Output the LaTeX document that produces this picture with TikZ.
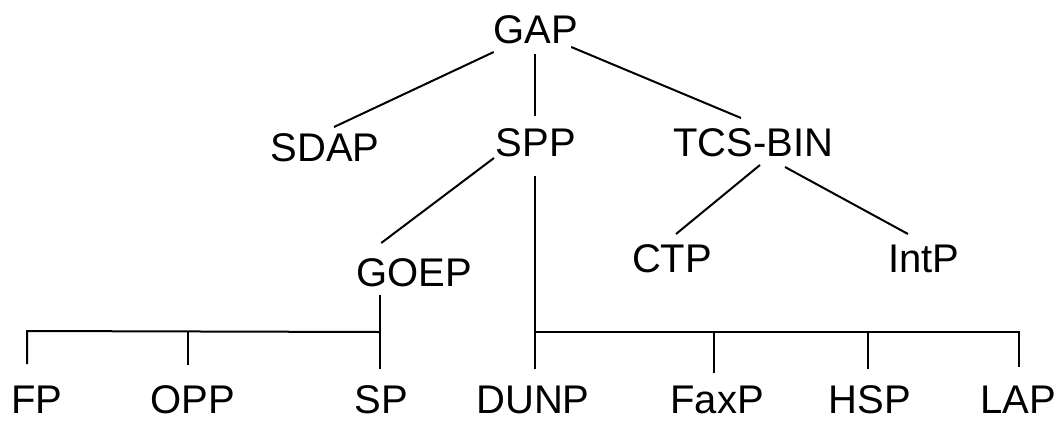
\documentclass[tikz,border=0pt]{standalone}
\usepackage{fontspec}
\setmainfont{Liberation Sans}
\usetikzlibrary{calc}
\begin{document}
\begin{tikzpicture}[x=1pt,y=-1pt,
  lbl/.style={inner sep=0pt,outer sep=0pt,text height=28pt,text depth=0pt,anchor=base,font=\fontsize{40}{48}\selectfont},
  edge/.style={line width=2pt}]
\useasboundingbox (0,0) rectangle (1064,421);
% nodes
\node[lbl] (GAP) at (536,43) {GAP};
\node[lbl] (SDAP) at (325,161) {SDAP};
\node[lbl] (SPP) at (536,156) {SPP};
\node[lbl] (TCS) at (753,156) {TCS-BIN};
\node[lbl] (GOEP) at (414,286) {GOEP};
\node[lbl] (CTP) at (672,272) {CTP};
\node[lbl] (IntP) at (924,272) {IntP};
\node[lbl] (FP) at (37,413) {FP};
\node[lbl] (OPP) at (193,413) {OPP};
\node[lbl] (SP) at (381,413) {SP};
\node[lbl] (DUNP) at (533,413) {DUNP};
\node[lbl] (FaxP) at (717,413) {FaxP};
\node[lbl] (HSP) at (870,413) {HSP};
\node[lbl] (LAP) at (1018,413) {LAP};
% connectors
\draw[edge] ($(GAP.south west)+(0,9)$) -- ($(SDAP.north)+(9,-6)$);
\draw[edge] ($(GAP.south)+(-1,11)$) -- ($(SPP.north)+(-1,-12)$);
\draw[edge] ($(GAP.south east)+(-7,4)$) -- ($(TCS.north)+(-12,-10)$);
\draw[edge] ($(SPP.south west)+(-2,2)$) -- ($(GOEP.north west)+(25,-15)$);
\draw[edge] ($(TCS.south)+(7,9)$) -- ($(CTP.north)+(4,-10)$);
\draw[edge] ($(TCS.south)+(32,11)$) -- ($(IntP.north)+(-16,-10)$);
% GOEP bus
\coordinate (lb) at ($(SP.north)+(-1,-53)$);
\draw[edge] ($(GOEP.south)+(-34,9)$) -- ($(SP.north)+(-1,-16)$);
\draw[edge] ($(FP.north)+(-10,-21)$) -- ($(FP.north)+(-10,-54)$) -- (lb);
\draw[edge] ($(OPP.north)+(-5,-20)$) -- ($(OPP.north)+(-5,-54)$);
% SPP bus
\coordinate (rb) at ($(LAP.north)+(1,-53)$);
\draw[edge] ($(SPP.south)+(-1,20)$) -- ($(DUNP.north)+(2,-16)$);
\draw[edge] ($(DUNP.north)+(2,-53)$) -- (rb) -- ($(LAP.north)+(1,-18)$);
\draw[edge] ($(FaxP.north)+(-3,-53)$) -- ($(FaxP.north)+(-3,-12)$);
\draw[edge] ($(HSP.north)+(-2,-53)$) -- ($(HSP.north)+(-2,-16)$);
\end{tikzpicture}
\end{document}
